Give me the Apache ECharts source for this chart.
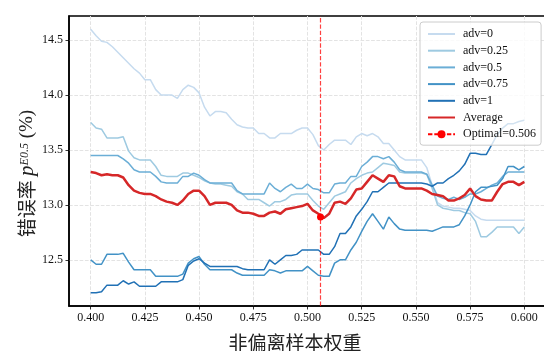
<!DOCTYPE html>
<html><head><meta charset="utf-8">
<script src="https://cdn.jsdelivr.net/npm/echarts@6.0.0/dist/echarts.min.js"></script>
<style>html,body{margin:0;padding:0;background:#fff;}#c{width:544px;height:351px;}</style>
</head><body><div id="c"></div>
<script>
// Non-deviating sample weight (x)
const weights = [0.4000,0.4025,0.4050,0.4075,0.4100,0.4125,0.4150,0.4175,0.4200,0.4225,
 0.4250,0.4275,0.4300,0.4325,0.4350,0.4375,0.4400,0.4425,0.4450,0.4475,
 0.4500,0.4525,0.4550,0.4575,0.4600,0.4625,0.4650,0.4675,0.4700,0.4725,
 0.4750,0.4775,0.4800,0.4825,0.4850,0.4875,0.4900,0.4925,0.4950,0.4975,
 0.5000,0.5025,0.5050,0.5075,0.5100,0.5125,0.5150,0.5175,0.5200,0.5225,
 0.5250,0.5275,0.5300,0.5325,0.5350,0.5375,0.5400,0.5425,0.5450,0.5475,
 0.5500,0.5525,0.5550,0.5575,0.5600,0.5625,0.5650,0.5675,0.5700,0.5725,
 0.5750,0.5775,0.5800,0.5825,0.5850,0.5875,0.5900,0.5925,0.5950,0.5975,0.6000];

const adv0 = [14.60,14.54,14.49,14.48,14.44,14.39,14.34,14.29,14.24,14.20,
 14.14,14.14,14.05,14.00,14.00,14.00,13.97,14.05,14.09,14.07,
 14.02,13.89,13.81,13.85,13.85,13.84,13.78,13.73,13.71,13.70,
 13.70,13.65,13.65,13.61,13.61,13.65,13.65,13.65,13.68,13.70,
 13.70,13.64,13.54,13.50,13.55,13.59,13.59,13.59,13.55,13.62,
 13.65,13.63,13.65,13.62,13.56,13.56,13.50,13.44,13.41,13.41,
 13.41,13.41,13.34,13.18,13.02,12.99,12.98,12.97,12.97,12.96,
 12.95,12.90,12.87,12.86,12.86,12.86,12.86,12.86,12.86,12.86,12.86];

const adv025 = [13.75,13.70,13.69,13.61,13.61,13.61,13.62,13.49,13.43,13.41,
 13.41,13.41,13.35,13.27,13.26,13.26,13.26,13.29,13.29,13.27,
 13.25,13.22,13.20,13.19,13.19,13.18,13.17,13.12,13.10,13.05,
 13.05,13.05,13.02,12.99,13.03,13.03,13.05,13.09,13.10,13.10,
 13.10,13.04,12.99,12.96,13.02,13.08,13.10,13.12,13.20,13.24,
 13.27,13.29,13.30,13.34,13.38,13.37,13.36,13.30,13.29,13.29,
 13.29,13.29,13.28,13.15,13.00,12.97,12.96,12.95,12.95,12.93,
 12.92,12.85,12.71,12.71,12.75,12.80,12.80,12.80,12.80,12.74,12.80];

const adv05 = [13.45,13.45,13.45,13.45,13.45,13.45,13.42,13.38,13.32,13.30,
 13.30,13.30,13.26,13.21,13.20,13.20,13.20,13.26,13.26,13.29,
 13.27,13.23,13.20,13.20,13.20,13.20,13.20,13.13,13.10,13.10,
 13.10,13.10,13.10,13.20,13.15,13.12,13.16,13.19,13.15,13.15,
 13.19,13.15,13.14,13.11,13.11,13.19,13.20,13.20,13.26,13.26,
 13.35,13.39,13.44,13.44,13.42,13.44,13.39,13.32,13.30,13.30,
 13.30,13.30,13.28,13.18,13.08,13.06,13.05,13.07,13.05,13.07,
 13.10,13.10,13.12,13.15,13.18,13.20,13.26,13.30,13.30,13.30,13.30];

const adv075 = [12.50,12.46,12.46,12.55,12.55,12.55,12.56,12.48,12.41,12.41,
 12.41,12.41,12.35,12.35,12.35,12.35,12.35,12.37,12.47,12.51,
 12.53,12.46,12.41,12.41,12.41,12.41,12.41,12.38,12.36,12.36,
 12.36,12.36,12.36,12.41,12.40,12.38,12.40,12.40,12.40,12.40,
 12.44,12.40,12.36,12.35,12.35,12.47,12.50,12.50,12.59,12.66,
 12.76,12.85,12.92,12.85,12.78,12.89,12.83,12.78,12.77,12.77,
 12.77,12.77,12.77,12.76,12.78,12.80,12.80,12.80,12.82,12.90,
 13.00,13.12,13.16,13.16,13.17,13.18,13.24,13.35,13.35,13.32,13.35];

const adv1 = [12.20,12.20,12.21,12.27,12.27,12.27,12.31,12.28,12.30,12.26,
 12.26,12.26,12.26,12.30,12.30,12.30,12.30,12.32,12.45,12.49,
 12.51,12.47,12.44,12.44,12.44,12.44,12.44,12.44,12.42,12.41,
 12.41,12.41,12.41,12.50,12.46,12.50,12.54,12.54,12.55,12.59,
 12.59,12.59,12.59,12.55,12.55,12.62,12.74,12.74,12.80,12.90,
 12.96,13.03,13.12,13.12,13.16,13.20,13.20,13.20,13.20,13.20,
 13.20,13.20,13.19,13.17,13.20,13.20,13.24,13.27,13.31,13.37,
 13.47,13.47,13.46,13.46,13.55,13.64,13.70,13.74,13.74,13.76,13.77];

const average = [13.30,13.29,13.27,13.28,13.27,13.27,13.25,13.18,13.13,13.11,
 13.10,13.10,13.08,13.05,13.03,13.02,13.00,13.04,13.10,13.13,
 13.13,13.08,13.00,13.02,13.02,13.02,13.00,12.95,12.93,12.93,
 12.92,12.90,12.90,12.93,12.94,12.92,12.96,12.97,12.98,12.99,
 13.01,12.95,12.92,12.88,12.92,13.02,13.03,13.01,13.06,13.14,
 13.15,13.21,13.27,13.24,13.21,13.27,13.26,13.17,13.15,13.15,
 13.15,13.15,13.13,13.10,13.09,13.08,13.04,13.04,13.06,13.09,
 13.15,13.08,13.05,13.04,13.04,13.12,13.19,13.21,13.21,13.18,13.21];

const optimalWeight = 0.506;
const optimalError = 12.89;

const seriesNames = ['adv=0','adv=0.25','adv=0.5','adv=0.75','adv=1'];
const xTicks = [0.400,0.425,0.450,0.475,0.500,0.525,0.550,0.575,0.600];
const yTicks = [12.5,13.0,13.5,14.0,14.5];

const blues = ['#c6dbef','#9ecae1','#6baed6','#4292c6','#2171b5'];
const advData = [adv0, adv025, adv05, adv075, adv1];
const pairs = ys => weights.map((w,i) => [w, ys[i]]);

const chart = echarts.init(document.getElementById('c'), null, {renderer:'canvas'});
const serif = 'Liberation Serif';
const series = advData.map((ys, k) => ({
  name: seriesNames[k], type:'line', data: pairs(ys), symbol:'none',
  lineStyle:{color: blues[k], width:1.5}, itemStyle:{color: blues[k]}, z: 2
}));
series.push({
  name:'Average', type:'line', data: pairs(average), symbol:'none',
  lineStyle:{color:'#d62728', width:2.5}, itemStyle:{color:'#d62728'}, z: 4
});
series.push({
  name:'Optimal=0.506', type:'line', data:[[optimalWeight, optimalError]],
  symbol:'circle', symbolSize:7, itemStyle:{color:'#ff0000'},
  lineStyle:{color:'#ff0000', type:[4.4,1.9], width:1.2}, z: 5,
  markLine:{silent:true, symbol:'none', precision:4, label:{show:false},
    lineStyle:{color:'rgba(255,0,0,0.75)', type:[4.4,1.9], width:1.2},
    data:[{xAxis: optimalWeight}]}
});

const hideDot = {opacity:0};
chart.setOption({
  animation:false,
  backgroundColor:'#fff',
  grid:{left:69, top:16, width:477, height:290, outerBoundsMode:'none', containLabel:false,
    show:true, borderColor:'#000', borderWidth:1.5, backgroundColor:'transparent'},
  xAxis:{type:'value', min:0.39, max:0.61,
    axisLine:{show:true, onZero:false, lineStyle:{color:'#000', width:1.5}},
    axisTick:{show:true, customValues:xTicks, length:3.5, lineStyle:{color:'#000', width:0.8}},
    axisLabel:{customValues:xTicks, formatter:v=>v.toFixed(3), fontFamily:serif, fontSize:12, color:'#111', margin:6},
    splitLine:{show:true, lineStyle:{color:'#e3e3e3', type:[3.7,1.6], width:1}},
    name:'非偏离样本权重', nameLocation:'middle', nameGap:27, nameMoveOverlap:false,
    nameTextStyle:{fontFamily:'Noto Sans CJK SC', fontSize:19, color:'#222', padding:[0,25,0,0]}
  },
  yAxis:{type:'value', min:12.08, max:14.72,
    axisLine:{show:true, onZero:false, lineStyle:{color:'#000', width:1.5}},
    axisTick:{show:true, customValues:yTicks, length:3.5, lineStyle:{color:'#000', width:0.8}},
    axisLabel:{customValues:yTicks, formatter:v=>v.toFixed(1), fontFamily:serif, fontSize:12, color:'#111', margin:6},
    splitLine:{show:true, lineStyle:{color:'#e3e3e3', type:[3.7,1.6], width:1}},
    name:'{c|错误率 }{p|p}{s|E0.5}{n| (%)}', nameLocation:'middle', nameRotate:90, nameGap:29, nameMoveOverlap:false,
    nameTextStyle:{padding:[0,25,0,0], rich:{
      c:{fontFamily:'Noto Sans CJK SC', fontSize:19, color:'#222', lineHeight:26},
      p:{fontFamily:serif, fontStyle:'italic', fontSize:21, color:'#222', lineHeight:26},
      s:{fontFamily:serif, fontStyle:'italic', fontSize:12, color:'#222', verticalAlign:'middle', lineHeight:13, padding:[0,0,5,0]},
      n:{fontFamily:serif, fontSize:19, color:'#222', lineHeight:26}
    }}
  },
  legend:{orient:'vertical', left:420, top:22, padding:[6,5,5,7],
    itemWidth:27, itemHeight:10, itemGap:4.7,
    backgroundColor:'rgba(255,255,255,0.8)', borderColor:'#cccccc', borderWidth:1, borderRadius:3,
    textStyle:{fontFamily:serif, fontSize:12, color:'#111', padding:[0,0,0,3]},
    data:[
      {name:seriesNames[0], itemStyle:hideDot},
      {name:seriesNames[1], itemStyle:hideDot},
      {name:seriesNames[2], itemStyle:hideDot},
      {name:seriesNames[3], itemStyle:hideDot},
      {name:seriesNames[4], itemStyle:hideDot},
      {name:'Average', itemStyle:hideDot},
      {name:'Optimal=0.506'}
    ]
  },
  series: series
});
</script></body></html>
